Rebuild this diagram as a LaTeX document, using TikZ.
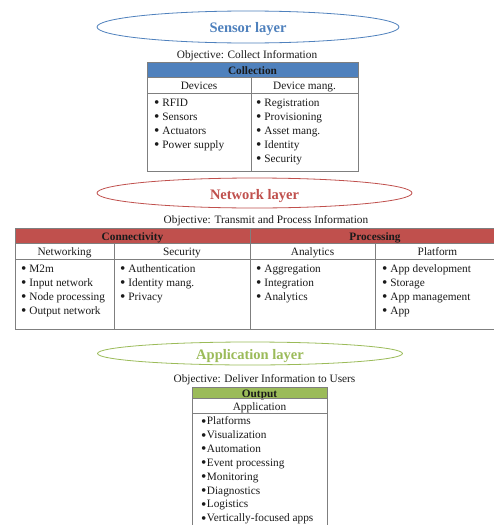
\documentclass[tikz,border=0pt]{standalone}
\usepackage{fontspec}
\setmainfont{Liberation Serif}
\usetikzlibrary{shapes.geometric}
\definecolor{sblue}{HTML}{4F81BD}
\definecolor{nred}{HTML}{C0504D}
\definecolor{agreen}{HTML}{9BBB59}
\definecolor{gridc}{HTML}{7F7F7F}
\definecolor{txtc}{HTML}{1A1A1A}
\newcommand\mybul{\raisebox{-1.4pt}{\scalebox{1.35}{\textbullet}}}
\begin{document}
\begin{tikzpicture}[x=1pt,y=-1pt,
  txt/.style={inner sep=0pt, text=txtc, font=\fontsize{11.3}{14}\selectfont, yshift=-2.5pt},
  item/.style={txt, anchor=west, text height=8pt, text depth=2.5pt},
  cell/.style={draw=gridc, line width=0.8pt, inner sep=0pt, text=txtc,
     font=\fontsize{11.3}{14}\selectfont, text height=10pt, text depth=0.5pt},
  hcell/.style={cell, font=\fontsize{11.3}{14}\selectfont\bfseries},
  layer/.style={ellipse, draw, line width=0.8pt, inner sep=0pt, text height=11pt, text depth=0pt,
     font=\fontsize{14.5}{17}\selectfont\bfseries}
]
\useasboundingbox (0,0) rectangle (494,525);
\fill[white] (0,0) rectangle (494,525);
\clip (0,0) rectangle (494,525);

% ---------- Sensor layer ----------
\node[layer, draw=sblue, text=sblue, minimum width=302pt, minimum height=32pt] (sensor) at (248,27) {Sensor layer};
\node[txt] (sobj) at (247,53) {Objective: Collect Information};
\node[hcell, fill=sblue, minimum width=211pt, minimum height=15pt] (coll) at (252.5,69.5) {Collection};
\node[cell, minimum width=104pt, minimum height=16pt] (devices) at (199,85) {Devices};
\node[cell, minimum width=107pt, minimum height=16pt] (devmang) at (304.5,85) {Device mang.};
\node[cell, minimum width=104pt, minimum height=78pt] (devbody) at (199,132) {};
\node[cell, minimum width=107pt, minimum height=78pt] (mangbody) at (304.5,132) {};
\foreach \t [count=\i] in {RFID, Sensors, Actuators, Power supply}
  \node[item] (dev-\i) at (154,{101+14*(\i-1)}) {\mybul\ \t};
\foreach \t [count=\i] in {Registration, Provisioning, Asset mang., Identity, Security}
  \node[item] (mng-\i) at (256,{101+14*(\i-1)}) {\mybul\ \t};

% ---------- Network layer ----------
\node[layer, draw=nred, text=nred, minimum width=315pt, minimum height=30pt, text height=13pt] (network) at (254.5,193) {Network layer};
\node[txt] (nobj) at (266,218) {Objective: Transmit and Process Information};
\node[hcell, fill=nred, minimum width=235pt, minimum height=15pt] (conn) at (132.5,235.5) {Connectivity};
\node[hcell, fill=nred, minimum width=250pt, minimum height=15pt] (proc) at (375,235.5) {Processing};
\node[cell, minimum width=99pt, minimum height=16pt] (netw) at (64.5,251) {Networking};
\node[cell, minimum width=136pt, minimum height=16pt] (sec) at (182,251) {Security};
\node[cell, minimum width=125pt, minimum height=16pt] (ana) at (312.5,251) {Analytics};
\node[cell, minimum width=125pt, minimum height=16pt] (plat) at (437.5,251) {Platform};
\node[cell, minimum width=99pt, minimum height=70pt] (netwbody) at (64.5,294) {};
\node[cell, minimum width=136pt, minimum height=70pt] (secbody) at (182,294) {};
\node[cell, minimum width=125pt, minimum height=70pt] (anabody) at (312.5,294) {};
\node[cell, minimum width=125pt, minimum height=70pt] (platbody) at (437.5,294) {};
\foreach \t [count=\i] in {M2m, Input network, Node processing, Output network}
  \node[item] (nw-\i) at (21,{267+14*(\i-1)}) {\mybul\ \t};
\foreach \t [count=\i] in {Authentication, Identity mang., Privacy}
  \node[item] (sc-\i) at (120,{267+14*(\i-1)}) {\mybul\ \t};
\foreach \t [count=\i] in {Aggregation, Integration, Analytics}
  \node[item] (an-\i) at (256,{267+14*(\i-1)}) {\mybul\ \t};
\foreach \t [count=\i] in {App development, Storage, App management, App}
  \node[item] (pl-\i) at (382,{267+14*(\i-1)}) {\mybul\ \t};

% ---------- Application layer ----------
\node[layer, draw=agreen, text=agreen, minimum width=305pt, minimum height=23pt] (application) at (250,353.5) {Application layer};
\node[txt] (aobj) at (264.5,377) {Objective: Deliver Information to Users};
\node[hcell, fill=agreen, minimum width=135pt, minimum height=11pt] (outp) at (259.5,392.5) {Output};
\node[cell, minimum width=135pt, minimum height=15pt] (appl) at (259.5,405.5) {Application};
\node[cell, minimum width=135pt, minimum height=127pt] (applbody) at (259.5,476.5) {};
\foreach \t [count=\i] in {Platforms, Visualization, Automation, Event processing, Monitoring, Diagnostics, Logistics, Vertically-focused apps}
  \node[item] (ap-\i) at (201,{419.5+13.85*(\i-1)}) {\mybul\kern0.4pt\t};
\end{tikzpicture}
\end{document}
